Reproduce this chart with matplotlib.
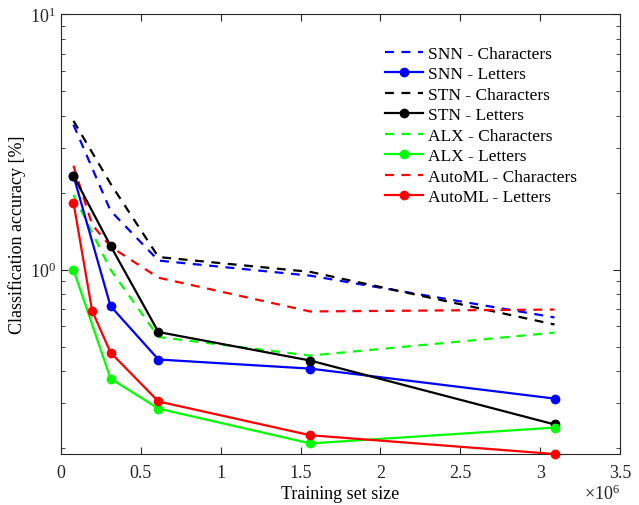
import numpy as np
import matplotlib
matplotlib.use("Agg")
import matplotlib.pyplot as plt
from matplotlib.ticker import LogLocator, FixedLocator, FixedFormatter, NullFormatter

plt.rcParams['font.family'] = ['Liberation Serif', 'DejaVu Serif']
plt.rcParams['mathtext.fontset'] = 'custom'
plt.rcParams['mathtext.rm'] = 'Liberation Serif'
plt.rcParams['mathtext.it'] = 'Liberation Serif:italic'

# training set sizes (x 1e6)
x_main = [0.078, 0.31, 0.61, 1.56, 3.09]
x_automl = [0.078, 0.195, 0.31, 0.61, 1.56, 3.09]

snn_chars = [3.69, 1.70, 1.085, 0.947, 0.65]
snn_letters = [2.33, 0.72, 0.445, 0.41, 0.313]
stn_chars = [3.82, 2.17, 1.12, 0.98, 0.61]
stn_letters = [2.33, 1.24, 0.57, 0.441, 0.248]
alx_chars = [1.96, 1.0, 0.545, 0.461, 0.567]
alx_letters = [1.0, 0.375, 0.286, 0.209, 0.241]
automl_chars = [2.55, 1.5, 1.23, 0.93, 0.686, 0.698]
automl_letters = [1.83, 0.69, 0.474, 0.305, 0.225, 0.19]

series = [
    ("SNN - Characters", x_main, snn_chars, (0, 0, 1), "--"),
    ("SNN - Letters", x_main, snn_letters, (0, 0, 1), "-"),
    ("STN - Characters", x_main, stn_chars, (0, 0, 0), "--"),
    ("STN - Letters", x_main, stn_letters, (0, 0, 0), "-"),
    ("ALX - Characters", x_main, alx_chars, (0, 1, 0), "--"),
    ("ALX - Letters", x_main, alx_letters, (0, 1, 0), "-"),
    ("AutoML - Characters", x_automl, automl_chars, (1, 0, 0), "--"),
    ("AutoML - Letters", x_automl, automl_letters, (1, 0, 0), "-"),
]

fig = plt.figure(figsize=(6.39, 5.06), dpi=100)
ax = fig.add_axes([61 / 639, 1 - 455 / 506, 559 / 639, 440 / 506])

for label, xs, ys, col, ls in series:
    xs = np.array(xs) * 1e6
    if ls == "--":
        ax.plot(xs, ys, color=col, lw=1.6, linestyle="--", dashes=(4.0, 3.4), label=label)
    else:
        ax.plot(xs, ys, color=col, lw=1.6, marker="o", markersize=6, label=label,
                clip_on=False, zorder=3)

ax.set_yscale("log")
ax.set_xlim(0, 3.5e6)
ax.set_ylim(0.19, 10)

edge = (0.15, 0.15, 0.15)
ax.set_xticks(np.arange(0, 3.51e6, 0.5e6))
ax.set_xticklabels(["0", "0.5", "1", "1.5", "2", "2.5", "3", "3.5"])
ax.yaxis.set_major_locator(FixedLocator([1, 10]))
ax.yaxis.set_major_formatter(FixedFormatter([r"$10^{0}$", r"$10^{1}$"]))
ax.yaxis.set_minor_locator(LogLocator(base=10, subs=np.arange(2, 10)))
ax.yaxis.set_minor_formatter(NullFormatter())
ax.tick_params(which="both", direction="in", top=True, right=True, color=edge,
               labelcolor=edge, labelsize=13)
ax.tick_params(which="major", length=5, width=0.8)
ax.tick_params(which="minor", length=3, width=0.6)
ax.tick_params(axis="x", which="major", pad=7)
for sp in ax.spines.values():
    sp.set_color(edge)
    sp.set_linewidth(0.8)

ax.set_xlabel("Training set size", fontsize=13, color="black", labelpad=3)
ax.set_ylabel("Classification accuracy [%]", fontsize=13, color="black", labelpad=3)
fig.text(620 / 639, 0.004, r"$\times10^{6}$", ha="right", va="bottom", fontsize=13, color=edge)

leg = ax.legend(loc="upper left", bbox_to_anchor=((385 - 61) / 559, 0.928), frameon=False,
                fontsize=12.5, handlelength=2.2, handletextpad=0.3, labelspacing=0.25,
                borderpad=0, borderaxespad=0)

fig.savefig("out.png", dpi=100)
